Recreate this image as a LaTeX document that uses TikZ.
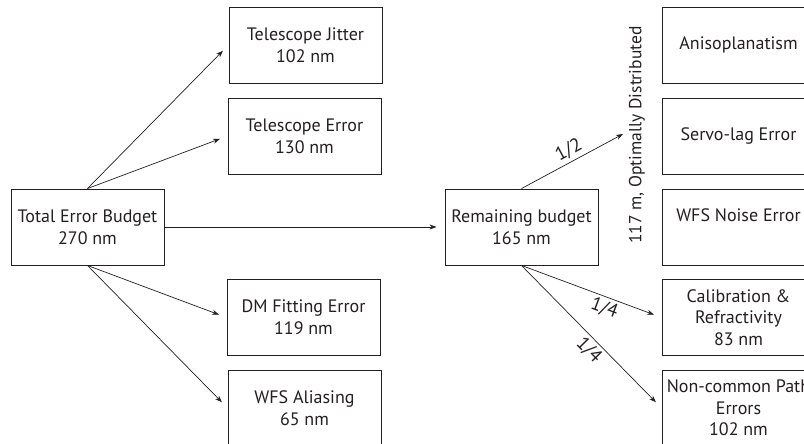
\documentclass[tikz,border=0pt]{standalone}
\usepackage{fontspec}
\setmainfont{PT Sans}
\usetikzlibrary{arrows.meta}
\definecolor{ink}{HTML}{231F20}
\tikzset{
  box/.style={draw=ink, line width=0.9pt, minimum width=153pt, minimum height=76pt, inner sep=0pt, align=center, text=ink, font=\fontsize{18}{21.7}\selectfont},
  conn/.style={draw=ink, line width=0.7pt, -{Stealth[length=7pt,width=5pt]}, shorten >=8pt},
  frac/.style={sloped, text=ink, font=\fontsize{19}{20}\selectfont, inner sep=3pt}
}
\begin{document}
\begin{tikzpicture}[x=1pt,y=-1pt]
\useasboundingbox (0,0) rectangle (804,444);
\clip (0,0) rectangle (804,444);
\node[box] (jit) at (305.5,45) {Telescope Jitter\\102 nm};
\node[box] (terr) at (304.5,136) {Telescope Error\\130 nm};
\node[box] (total) at (87.5,227) {Total Error Budget\\270 nm};
\node[box] (dm) at (303.5,317.5) {DM Fitting Error\\119 nm};
\node[box] (alias) at (304.5,408) {WFS Aliasing\\65 nm};
\node[box] (rem) at (521.5,227) {Remaining budget\\165 nm};
\node[box] (aniso) at (738.5,45) {Anisoplanatism};
\node[box] (servo) at (738.5,136) {Servo-lag Error};
\node[box] (noise) at (738.5,227) {WFS Noise Error\\[2pt]};
\node[box] (calib) at (738.5,317.5) {Calibration \&\\Refractivity\\83 nm};
\node[box] (ncp) at (738.5,408) {Non-common Path\\Errors\\102 nm};
\node[rotate=90, text=ink, font=\fontsize{17.5}{18}\selectfont, inner sep=0pt] (dist) at (637,135) {117 m, Optimally Distributed};
\coordinate (e12) at (623,134);

\draw[conn] (total.north) -- (jit.west);
\draw[conn] (total.north) -- (terr.west);
\draw[conn] (total.south) -- (dm.west);
\draw[conn] (total.south) -- (alias.west);
\draw[conn] (total.east) -- (rem.west);
\draw[conn, shorten >=0pt] (rem.north) -- node[frac, above, pos=0.52] {1/2} (e12);
\draw[conn] (rem.south) -- node[frac, below, pos=0.62] {1/4} (calib.west);
\draw[conn] (rem.south) -- node[frac, below, pos=0.54] {1/4} (ncp.west);
\end{tikzpicture}
\end{document}
